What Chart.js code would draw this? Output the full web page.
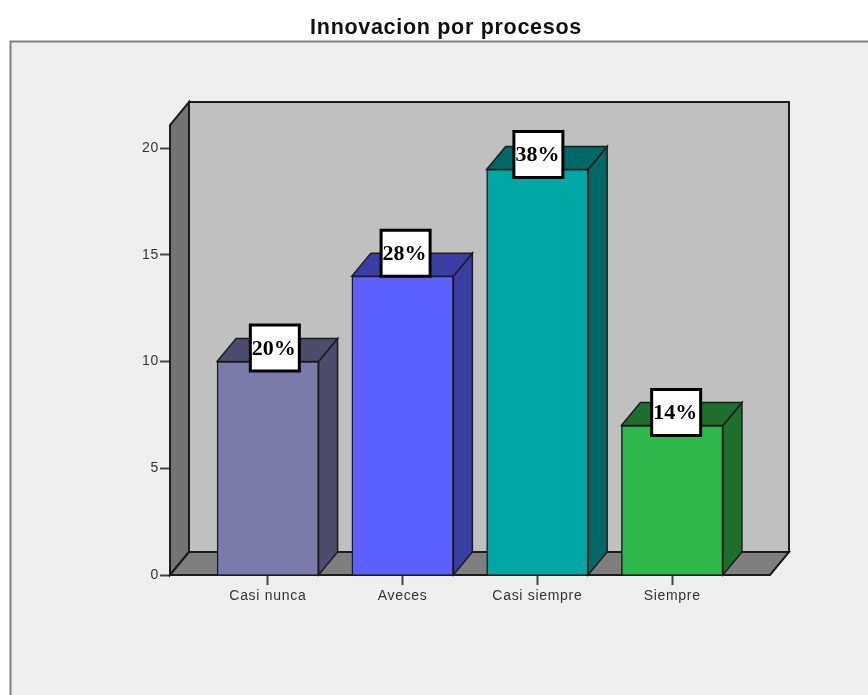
<!DOCTYPE html>
<html>
<head>
<meta charset="utf-8">
<style>html,body{margin:0;padding:0;background:#fff}canvas{display:block}</style>
<script src="https://cdn.jsdelivr.net/npm/chart.js@4"></script>
</head>
<body>
<canvas id="c" width="868" height="695"></canvas>
<script>
const categories = ["Casi nunca", "Aveces", "Casi siempre", "Siempre"];
const counts = [10, 14, 19, 7];
const percentLabels = ["20%", "28%", "38%", "14%"];
const frontColors = ["#7b7bab", "#5b60ff", "#00a8a5", "#2eb84c"];
const sideColors = ["#4c4c6b", "#3a3da3", "#006966", "#1e6f2e"];
const topColors = ["#4c4c6b", "#3a3da3", "#006966", "#1e6f2e"];
const yTicks = [0, 5, 10, 15, 20];

const DX = 19, DY = 23;
const LINE = "#1c1c1c";
const boxShiftX = [7, 3, 1, 4];
const boxShiftY = [-13.5, -23, -15, -13];

function poly(ctx, pts, fill, lw) {
  ctx.beginPath();
  pts.forEach((p, i) => i ? ctx.lineTo(p[0], p[1]) : ctx.moveTo(p[0], p[1]));
  ctx.closePath();
  ctx.fillStyle = fill;
  ctx.fill();
  ctx.lineWidth = lw;
  ctx.strokeStyle = LINE;
  ctx.lineJoin = "miter";
  ctx.stroke();
}

const scene = {
  id: "scene",
  beforeDraw(chart) {
    const c = chart.ctx;
    c.save();
    c.fillStyle = "#ffffff";
    c.fillRect(0, 0, chart.width, chart.height);
    c.fillStyle = "#efefef";
    c.fillRect(10, 41, chart.width - 10, chart.height - 41);
    c.strokeStyle = "#808080";
    c.lineWidth = 2;
    c.beginPath();
    c.moveTo(10.5, chart.height);
    c.lineTo(10.5, 41.5);
    c.lineTo(chart.width, 41.5);
    c.stroke();
    c.restore();
    c.letterSpacing = "0.7px";
  },
  beforeDatasetsDraw(chart) {
    const c = chart.ctx, a = chart.chartArea;
    const l = a.left, r = a.right, t = a.top, b = a.bottom;
    c.save();
    poly(c, [[l + DX, t - DY], [r + DX, t - DY], [r + DX, b - DY], [l + DX, b - DY]], "#c0c0c0", 2);
    poly(c, [[l, b], [l, t], [l + DX, t - DY], [l + DX, b - DY]], "#737373", 2);
    poly(c, [[l, b], [l + DX, b - DY], [r + DX, b - DY], [r, b]], "#7f7f7f", 2);
    chart.getDatasetMeta(0).data.forEach((bar, i) => {
      const hw = bar.width / 2, x0 = bar.x - hw, x1 = bar.x + hw;
      poly(c, [[x1, bar.y], [x1 + DX, bar.y - DY], [x1 + DX, b - DY], [x1, b]], sideColors[i], 1.5);
      poly(c, [[x0, bar.y], [x0 + DX, bar.y - DY], [x1 + DX, bar.y - DY], [x1, bar.y]], topColors[i], 1.5);
    });
    c.restore();
  },
  afterDatasetsDraw(chart) {
    const c = chart.ctx;
    c.save();
    c.letterSpacing = "0px";
    c.font = "bold 22px 'Liberation Serif'";
    c.textAlign = "center";
    c.textBaseline = "middle";
    chart.getDatasetMeta(0).data.forEach((bar, i) => {
      const cx = bar.x + boxShiftX[i], cy = bar.y + boxShiftY[i];
      c.fillStyle = "#ffffff";
      c.strokeStyle = "#000000";
      c.lineWidth = 3;
      c.beginPath();
      c.rect(cx - 24.5, cy - 23, 49, 46);
      c.fill();
      c.stroke();
      c.fillStyle = "#000000";
      c.fillText(percentLabels[i], cx - 1, cy + 1);
    });
    c.restore();
  }
};

new Chart(document.getElementById("c"), {
  type: "bar",
  data: {
    datasets: [{
      data: counts.map((v, i) => ({ x: i, y: v })),
      backgroundColor: frontColors,
      borderColor: LINE,
      borderWidth: 1.5,
      barThickness: 101.5
    }]
  },
  options: {
    responsive: false,
    animation: false,
    events: [],
    layout: { padding: { left: 122, right: 98, top: 0, bottom: 80 } },
    plugins: {
      legend: { display: false },
      tooltip: { enabled: false },
      title: {
        display: true,
        text: "Innovacion por procesos",
        color: "#111111",
        font: { family: "'Liberation Sans'", size: 21.5, weight: "bold", lineHeight: 1.2 },
        padding: { top: 15, bottom: 84.2 }
      }
    },
    scales: {
      x: {
        type: "linear",
        offset: false,
        min: -0.726,
        max: 3.726,
        afterBuildTicks(s) { s.ticks = categories.map((_, i) => ({ value: i })); },
        afterFit(s) { s.height = 40; },
        grid: { offset: false, drawOnChartArea: false, tickLength: 10, tickColor: "#444444", tickWidth: 2 },
        border: { display: false },
        ticks: {
          autoSkip: false,
          maxRotation: 0,
          padding: 3,
          color: "#333333",
          font: { family: "'Liberation Sans'", size: 14 },
          callback: v => categories[v]
        }
      },
      y: {
        min: 0,
        max: 21.08,
        afterBuildTicks(s) { s.ticks = yTicks.map(value => ({ value })); },
        afterFit(s) { s.width = 48; },
        grid: { drawOnChartArea: false, tickLength: 10, tickColor: "#444444", tickWidth: 2 },
        border: { display: false },
        ticks: {
          padding: 1,
          color: "#333333",
          font: { family: "'Liberation Sans'", size: 14 }
        }
      }
    }
  },
  plugins: [scene]
});
</script>
</body>
</html>
